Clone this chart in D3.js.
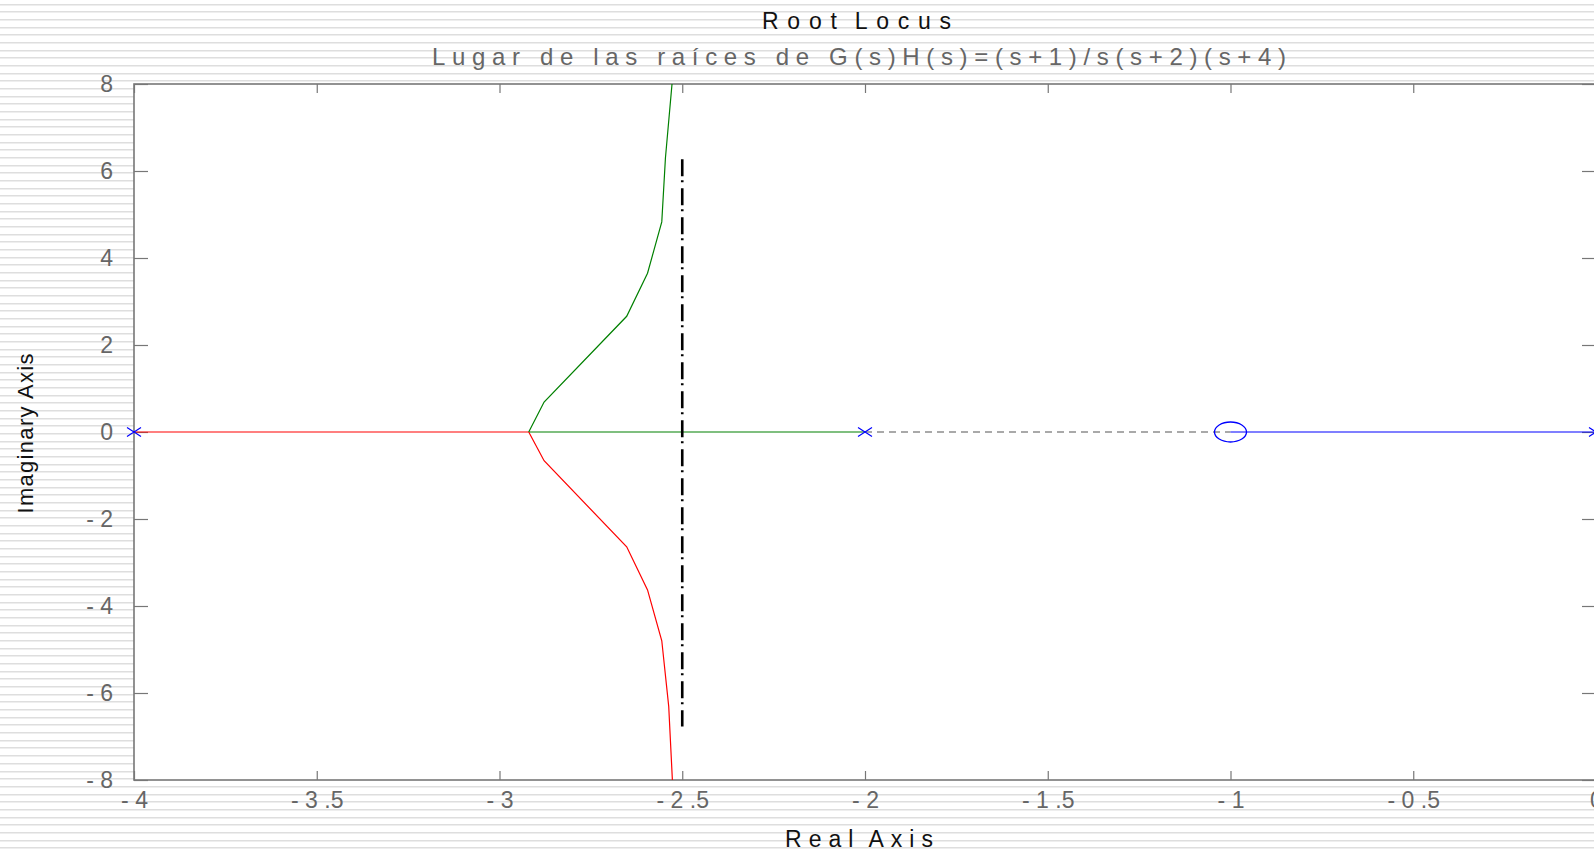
<!DOCTYPE html>
<html>
<head>
<meta charset="utf-8">
<script src="https://cdn.jsdelivr.net/npm/d3@7"></script>
<style>
  body { margin: 0; background: #fff; }
  svg { display: block; }
  .tick text { font-family: "Liberation Sans", Arial, sans-serif; font-size: 23px; fill: #666; }
  .tick line { stroke: #777; stroke-width: 1.2; }
  .domain { display: none; }
</style>
</head>
<body>
<svg id="chart" width="1594" height="852"></svg>
<script>

// poles and zeros of G(s)H(s) = (s+1)/s(s+2)(s+4)
const poles = [0, -2, -4];
const zeros = [-1];

// upper branch (green)
const upperRe = [-2.92, -2.878, -2.652, -2.595, -2.556, -2.546, -2.528];
const upperIm = [0, 0.69, 2.66, 3.65, 4.83, 6.30, 8.0];

// lower branch (red)
const lowerRe = [-2.92, -2.878, -2.652, -2.595, -2.556, -2.537, -2.527];
const lowerIm = [0, -0.66, -2.64, -3.63, -4.80, -6.31, -8.0];

// segments on the real axis: [from, to, colour, dashed]
const realSegments = [
  [-4, -2.92, 'red', false],
  [-2.92, -2, 'green', false],
  [-2, -1, '#555', true],
  [-1, 0, 'blue', false],
];

// asymptote
const asymptoteRe = -2.5;
const asymptoteIm = [6.27, -6.77];

const xTicks = [-4, -3.5, -3, -2.5, -2, -1.5, -1, -0.5, 0];
const xTickLabels = ['- 4', '- 3 .5', '- 3', '- 2 .5', '- 2', '- 1 .5', '- 1', '- 0 .5', '0'];
const yTicks = [-8, -6, -4, -2, 0, 2, 4, 6, 8];
const yTickLabels = ['- 8', '- 6', '- 4', '- 2', '0', '2', '4', '6', '8'];

const width = 1594, height = 852;
const svg = d3.select('#chart');

// striped background
const stripes = d3.range(0, 112);
svg.append('g')
   .selectAll('rect')
   .data(stripes)
   .enter()
   .append('rect')
   .attr('x', 0)
   .attr('y', (i) => Math.round(3.5 + i * 7.67))
   .attr('width', width)
   .attr('height', 1)
   .attr('fill', '#dedede');
svg.append('g')
   .selectAll('rect')
   .data(stripes)
   .enter()
   .append('rect')
   .attr('x', 0)
   .attr('y', (i) => Math.round(3.5 + i * 7.67) + 1)
   .attr('width', width)
   .attr('height', 1)
   .attr('fill', '#eeeeee');

const x = d3.scaleLinear().domain([-4, 0]).range([134, 1596]);
const y = d3.scaleLinear().domain([-8, 8]).range([780, 84]);

// plot area
svg.append('rect')
   .attr('x', x(-4))
   .attr('y', y(8))
   .attr('width', x(0) - x(-4))
   .attr('height', y(-8) - y(8))
   .attr('fill', '#fff');

svg.append('defs').append('clipPath')
   .attr('id', 'plotClip')
   .append('rect')
   .attr('x', x(-4))
   .attr('y', y(8))
   .attr('width', x(0) - x(-4))
   .attr('height', y(-8) - y(8));

// axes
svg.append('g')
   .attr('transform', `translate(0,${y(-8)})`)
   .call(d3.axisBottom(x).tickValues(xTicks).tickFormat((d, i) => xTickLabels[i])
           .tickSizeInner(-9).tickSizeOuter(0).tickPadding(12));
svg.append('g')
   .attr('transform', `translate(0,${y(8)})`)
   .call(d3.axisTop(x).tickValues(xTicks).tickFormat('').tickSizeInner(-9).tickSizeOuter(0));
svg.append('g')
   .attr('transform', `translate(${x(-4)},0)`)
   .call(d3.axisLeft(y).tickValues(yTicks).tickFormat((d, i) => yTickLabels[i])
           .tickSizeInner(-14).tickSizeOuter(0).tickPadding(21));
svg.append('g')
   .attr('transform', `translate(${x(0)},0)`)
   .call(d3.axisRight(y).tickValues(yTicks).tickFormat('').tickSizeInner(-14).tickSizeOuter(0));

// frame
svg.append('rect')
   .attr('x', x(-4))
   .attr('y', y(8))
   .attr('width', x(0) - x(-4))
   .attr('height', y(-8) - y(8))
   .attr('fill', 'none')
   .attr('stroke', '#777')
   .attr('stroke-width', 1.6);

const plot = svg.append('g').attr('clip-path', 'url(#plotClip)');

// real axis segments
plot.selectAll('line.seg')
    .data(realSegments)
    .enter()
    .append('line')
    .attr('class', 'seg')
    .attr('x1', (s) => x(s[0]))
    .attr('x2', (s) => x(s[1]))
    .attr('y1', y(0))
    .attr('y2', y(0))
    .attr('stroke', (s) => s[2])
    .attr('stroke-width', (s) => s[3] ? 1.2 : 1.2)
    .attr('stroke-dasharray', (s) => s[3] ? '7,5' : null);

// branches
const line = d3.line().x((p) => x(p[0])).y((p) => y(p[1]));
plot.append('path')
    .attr('d', line(d3.zip(upperRe, upperIm)))
    .attr('fill', 'none')
    .attr('stroke', 'green')
    .attr('stroke-width', 1.2);
plot.append('path')
    .attr('d', line(d3.zip(lowerRe, lowerIm)))
    .attr('fill', 'none')
    .attr('stroke', 'red')
    .attr('stroke-width', 1.2);

// asymptote
plot.append('line')
    .attr('x1', x(asymptoteRe))
    .attr('x2', x(asymptoteRe))
    .attr('y1', y(asymptoteIm[0]))
    .attr('y2', y(asymptoteIm[1]))
    .attr('stroke', '#000')
    .attr('stroke-width', 2.6)
    .attr('stroke-dasharray', '17,4,2,6');

// poles (x) and zeros (o)
const crosses = svg.append('g');
poles.forEach((p) => {
  crosses.append('path')
         .attr('d', `M${x(p) - 7},${y(0) - 4.5}L${x(p) + 7},${y(0) + 4.5}M${x(p) - 7},${y(0) + 4.5}L${x(p) + 7},${y(0) - 4.5}`)
         .attr('stroke', 'blue')
         .attr('stroke-width', 1.2)
         .attr('fill', 'none');
});
svg.selectAll('ellipse')
   .data(zeros)
   .enter()
   .append('ellipse')
   .attr('cx', (z) => x(z))
   .attr('cy', y(0))
   .attr('rx', 16)
   .attr('ry', 10)
   .attr('fill', 'none')
   .attr('stroke', 'blue')
   .attr('stroke-width', 1.3);

// titles
svg.append('text')
   .attr('x', 762)
   .attr('y', 29)
   .attr('textLength', 189)
   .attr('lengthAdjust', 'spacing')
   .style('font-family', '"Liberation Sans Narrow", "Liberation Sans", Arial, sans-serif')
   .style('font-size', '23px')
   .style('word-spacing', '-6px')
   .attr('fill', '#111')
   .text('Root Locus');

svg.append('text')
   .attr('x', 432)
   .attr('y', 65)
   .attr('textLength', 854)
   .attr('lengthAdjust', 'spacing')
   .style('font-family', '"Liberation Sans Narrow", "Liberation Sans", Arial, sans-serif')
   .style('font-size', '24px')
   .attr('fill', '#666')
   .text('Lugar de las raíces de G(s)H(s)=(s+1)/s(s+2)(s+4)');

svg.append('text')
   .attr('x', 785)
   .attr('y', 847)
   .attr('textLength', 148)
   .attr('lengthAdjust', 'spacing')
   .style('font-family', '"Liberation Sans", Arial, sans-serif')
   .style('font-size', '23px')
   .style('word-spacing', '-4px')
   .attr('fill', '#111')
   .text('Real Axis');

svg.append('text')
   .attr('transform', 'translate(33,513.5) rotate(-90)')
   .attr('textLength', 160)
   .attr('lengthAdjust', 'spacing')
   .style('font-family', '"Liberation Sans", Arial, sans-serif')
   .style('font-size', '22px')
   .attr('fill', '#111')
   .text('Imaginary Axis');

</script>
</body>
</html>
